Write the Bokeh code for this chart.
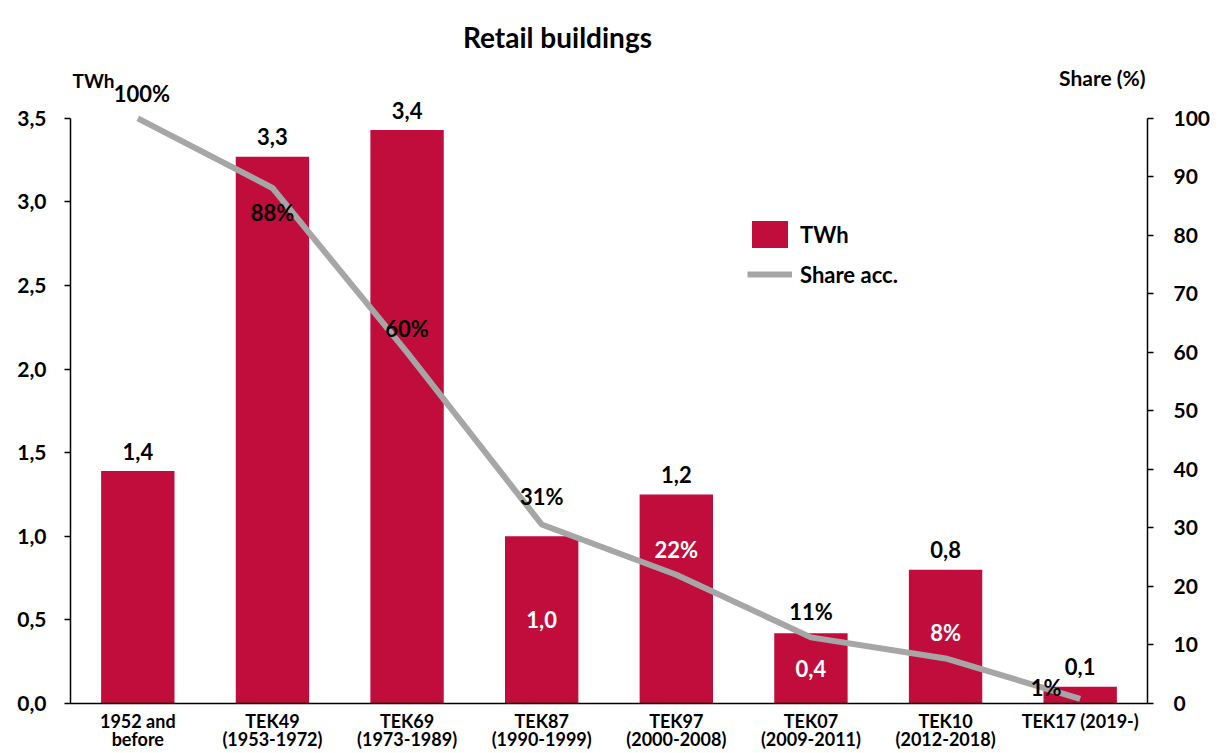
from bokeh.plotting import figure
from bokeh.models import (ColumnDataSource, Range1d, LinearAxis, FixedTicker,
                          CustomJSTickFormatter, LabelSet, Label, Legend, LegendItem)
from bokeh.core.properties import value
from bokeh.embed import file_html
from bokeh.resources import INLINE

# ---- data ----
categories = ["1952 and\nbefore", "TEK49\n(1953-1972)", "TEK69\n(1973-1989)",
              "TEK87\n(1990-1999)", "TEK97\n(2000-2008)", "TEK07\n(2009-2011)",
              "TEK10\n(2012-2018)", "TEK17 (2019-)"]
twh = [1.39, 3.27, 3.43, 1.00, 1.25, 0.42, 0.80, 0.10]
share_acc = [100.0, 88.1, 60.0, 30.6, 22.0, 11.3, 7.7, 0.8]
twh_labels = ["1,4", "3,3", "3,4", "1,0", "1,2", "0,4", "0,8", "0,1"]
share_labels = ["100%", "88%", "60%", "31%", "22%", "11%", "8%", "1%"]
left_ticks = [0.0, 0.5, 1.0, 1.5, 2.0, 2.5, 3.0, 3.5]
right_ticks = [0, 10, 20, 30, 40, 50, 60, 70, 80, 90, 100]
LEFT_MAX = 3.5
RIGHT_MAX = 100
title_text = "Retail buildings"
left_axis_title = "TWh"
right_axis_title = "Share (%)"

# ---- styles / layout ----
FONT = "Lato"
BAR_COLOR = "#C00D3C"
LINE_COLOR = "#A6A6A6"
W, H = 1214, 753
FRAME_L, FRAME_R, FRAME_B = 70, 1147, 704
AXIS_TOP_PX = 118             # pixel row where the axes end (3.5 / 100)
ext = FRAME_B / (FRAME_B - AXIS_TOP_PX)   # frame reaches the top of the canvas

twh_inside = [False, False, False, True, False, True, False, False]
share_dx = [4, 0, 0, 0, 0, 0, 0, -34]
share_dy = [25, -25, 24, 28, 25, 26, 26, 11]
share_color = ["black", "black", "black", "black", "white", "black", "white", "black"]

p = figure(x_range=categories, y_range=Range1d(0, LEFT_MAX * ext), width=W, height=H,
           output_backend="svg", toolbar_location=None,
           min_border_left=FRAME_L, min_border_right=W - FRAME_R,
           min_border_top=0, min_border_bottom=H - FRAME_B)
p.extra_y_ranges = {"share": Range1d(0, RIGHT_MAX * ext)}
p.outline_line_color = None
p.xgrid.grid_line_color = None
p.ygrid.grid_line_color = None

src = ColumnDataSource(dict(cat=categories, twh=twh, share=share_acc))
bars = p.vbar(x="cat", top="twh", width=0.545, source=src, fill_color=BAR_COLOR, line_color=None)
line = p.line(x="cat", y="share", source=src, y_range_name="share",
              line_color=LINE_COLOR, line_width=6)

ax = p.yaxis[0]
ax.ticker = FixedTicker(ticks=left_ticks)
ax.formatter = CustomJSTickFormatter(code="return tick.toFixed(1).replace('.', ',');")
ax.bounds = (0, LEFT_MAX)

rax = LinearAxis(y_range_name="share", ticker=FixedTicker(ticks=right_ticks))
rax.bounds = (0, RIGHT_MAX)
p.add_layout(rax, "right")

for a in (ax, rax):
    a.axis_line_color = "black"
    a.axis_line_width = 1.5
    a.major_tick_line_color = "black"
    a.major_tick_line_width = 1.5
    a.major_tick_in = 0
    a.major_tick_out = 6
    a.minor_tick_line_color = None
    a.major_label_text_font = FONT
    a.major_label_text_font_style = "bold"
    a.major_label_text_font_size = "21px"
    a.major_label_text_color = "black"
ax.major_label_standoff = 18
rax.major_label_standoff = 20

xa = p.xaxis[0]
xa.axis_line_color = "black"
xa.axis_line_width = 1.5
xa.major_tick_line_color = None
xa.minor_tick_line_color = None
xa.major_label_text_font = FONT
xa.major_label_text_font_style = "bold"
xa.major_label_text_font_size = "18px"
xa.major_label_text_line_height = 0.85
xa.major_label_text_color = "black"
xa.major_label_standoff = 0

# bar value labels
out_src = ColumnDataSource(dict(
    cat=[c for c, i in zip(categories, twh_inside) if not i],
    y=[v for v, i in zip(twh, twh_inside) if not i],
    t=[t for t, i in zip(twh_labels, twh_inside) if not i]))
in_src = ColumnDataSource(dict(
    cat=[c for c, i in zip(categories, twh_inside) if i],
    y=[v / 2 for v, i in zip(twh, twh_inside) if i],
    t=[t for t, i in zip(twh_labels, twh_inside) if i]))
p.add_layout(LabelSet(x="cat", y="y", text="t", source=out_src, y_offset=20,
                      text_align="center", text_baseline="middle", text_font=value(FONT),
                      text_font_style="bold", text_font_size="22px", text_color="black"))
p.add_layout(LabelSet(x="cat", y="y", text="t", source=in_src,
                      text_align="center", text_baseline="middle", text_font=value(FONT),
                      text_font_style="bold", text_font_size="22px", text_color="white"))

sh_src = ColumnDataSource(dict(cat=categories, y=share_acc, t=share_labels,
                               dx=share_dx, dy=share_dy, c=share_color))
p.add_layout(LabelSet(x="cat", y="y", text="t", source=sh_src, y_range_name="share",
                      x_offset="dx", y_offset="dy", text_color="c",
                      text_align="center", text_baseline="middle", text_font=value(FONT),
                      text_font_style="bold", text_font_size="22px"))

# chart title and axis titles (screen units, relative to the frame's bottom-left corner;
# kept inside the frame because annotations are clipped to it)
for txt, sx, sy, fs, align in [
        (title_text, 557 - FRAME_L, FRAME_B - 37, "28px", "center"),
        (left_axis_title, 2, FRAME_B - 81, "19px", "left"),
        (right_axis_title, FRAME_R - FRAME_L - 2, FRAME_B - 78, "21px", "right")]:
    p.add_layout(Label(x=sx, y=sy, x_units="screen", y_units="screen", text=txt,
                       text_align=align, text_baseline="alphabetic", text_font=FONT,
                       text_font_style="bold", text_font_size=fs, text_color="black"))

legend = Legend(items=[LegendItem(label="TWh", renderers=[bars]),
                       LegendItem(label="Share acc.", renderers=[line])],
                location=(677, 412), padding=0, margin=0, spacing=6,
                glyph_width=45, glyph_height=34, label_standoff=8,
                label_text_font=FONT, label_text_font_style="bold",
                label_text_font_size="22px", label_text_color="black",
                border_line_color=None, background_fill_alpha=0)
p.add_layout(legend)

open("out.html", "w").write(file_html(p, INLINE))
